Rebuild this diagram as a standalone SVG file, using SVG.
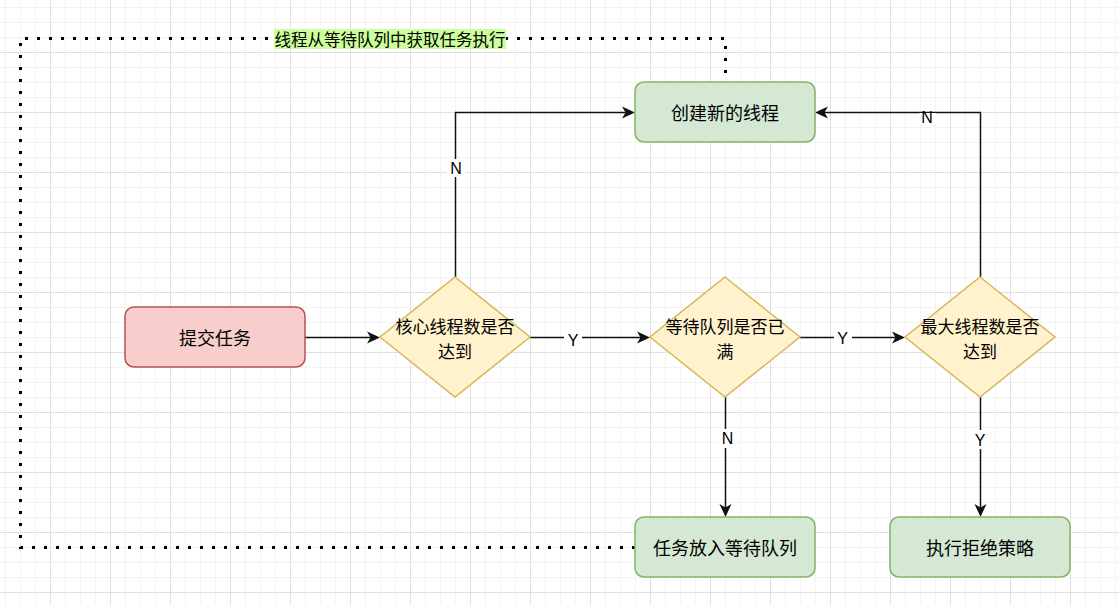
<svg xmlns="http://www.w3.org/2000/svg" width="1119" height="605" viewBox="0 0 1119 605">
<style>
.t{font-family:"Noto Sans CJK SC","Liberation Sans",sans-serif;font-size:18px;fill:#000;text-anchor:middle;dominant-baseline:central}
.td{font-family:"Noto Sans CJK SC","Liberation Sans",sans-serif;font-size:17px;fill:#000;text-anchor:middle;dominant-baseline:central}
.lb{font-family:"Liberation Sans","Noto Sans CJK SC",sans-serif;font-size:16px;fill:#000;text-anchor:middle;dominant-baseline:central}
.dl{font-family:"Noto Sans CJK SC",sans-serif;font-size:16.5px;fill:#000;text-anchor:middle;dominant-baseline:central}
.red{fill:#f8cecc;stroke:#b85450;stroke-width:1.5}
.green{fill:#d5e8d4;stroke:#82b366;stroke-width:1.5}
.yel{fill:#fff2cc;stroke:#d6b656;stroke-width:1.5}
.e{fill:none;stroke:#111;stroke-width:1.5;marker-end:url(#arr)}
.dot{fill:none;stroke:#000;stroke-width:3;stroke-dasharray:3 9}
</style>
<defs>
<pattern id="grid" patternUnits="userSpaceOnUse" x="5" y="7" width="60" height="60">
<path d="M0.5 0V60M15.5 0V60M30.5 0V60M0 0.5H60M0 15.5H60M0 30.5H60" stroke="#f3f3f3" stroke-width="1" fill="none"/>
<path d="M45.5 0V60M0 45.5H60" stroke="#e0e0e0" stroke-width="1" fill="none"/>
</pattern>
<marker id="arr" viewBox="-14 -7 15 14" refX="-9" refY="0" markerWidth="15" markerHeight="14" markerUnits="userSpaceOnUse" orient="auto">
<path d="M0,0 L-13,-6 L-9.5,0 L-13,6 Z" fill="#111"/>
</marker>
</defs>
<rect width="1119" height="605" fill="#fff"/>
<rect width="1119" height="605" fill="url(#grid)"/>

<g id="connectors">
<path class="dot" d="M635 547.5 H20.5 V38.5 H725.5 V82"/>
<rect x="274" y="29" width="232" height="20" fill="#ccff99"/>
<text class="dl" x="390" y="39">线程从等待队列中获取任务执行</text>

<path class="e" d="M305 337.5 H371"/>
<path class="e" d="M530 337.5 H641"/>
<rect x="564" y="331" width="18" height="16" fill="#fff"/>
<text class="lb" x="573" y="340">Y</text>
<path class="e" d="M800 337.5 H896"/>
<rect x="834" y="330" width="18" height="16" fill="#fff"/>
<text class="lb" x="842.5" y="338">Y</text>
<path class="e" d="M455.5 277 V112.5 H626"/>
<rect x="447" y="159" width="18" height="18" fill="#fff"/>
<text class="lb" x="456" y="168">N</text>
<path class="e" d="M980.5 277 V112.5 H824"/>
<rect x="919" y="113" width="17" height="11" fill="#fff"/>
<text class="lb" x="927" y="117">N</text>
<path class="e" d="M725.5 397 V508"/>
<rect x="718" y="429" width="19" height="19" fill="#fff"/>
<text class="lb" x="727.5" y="438">N</text>
<path class="e" d="M980.5 397 V508"/>
<rect x="971" y="430" width="19" height="19" fill="#fff"/>
<text class="lb" x="980" y="440">Y</text>
</g>

<g id="n-submit">
<rect class="red" x="125" y="307" width="180" height="60" rx="9"/>
<text class="t" x="215" y="337">提交任务</text>
</g>
<g id="n-core">
<path class="yel" d="M455 277 L530 337 L455 397 L380 337 Z"/>
<text class="td" x="455" y="325">核心线程数是否</text>
<text class="td" x="455" y="350">达到</text>
</g>
<g id="n-queue-full">
<path class="yel" d="M725 277 L800 337 L725 397 L650 337 Z"/>
<text class="td" x="725" y="325">等待队列是否已</text>
<text class="td" x="725" y="350">满</text>
</g>
<g id="n-max">
<path class="yel" d="M980 277 L1055 337 L980 397 L905 337 Z"/>
<text class="td" x="980" y="325">最大线程数是否</text>
<text class="td" x="980" y="350">达到</text>
</g>
<g id="n-create">
<rect class="green" x="635" y="82" width="180" height="60" rx="9"/>
<text class="t" x="725" y="112">创建新的线程</text>
</g>
<g id="n-enqueue">
<rect class="green" x="635" y="517" width="180" height="60" rx="9"/>
<text class="t" x="725" y="547">任务放入等待队列</text>
</g>
<g id="n-reject">
<rect class="green" x="890" y="517" width="180" height="60" rx="9"/>
<text class="t" x="980" y="547">执行拒绝策略</text>
</g>
</svg>
